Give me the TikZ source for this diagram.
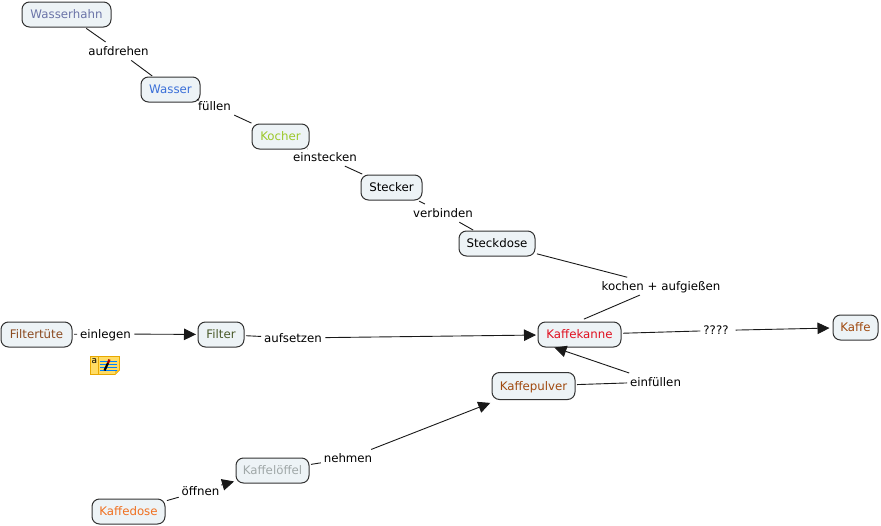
\documentclass[tikz,border=0pt]{standalone}
\usepackage{fontspec}
\setmainfont{DejaVu Sans}
\usetikzlibrary{arrows.meta}
\definecolor{conceptfill}{HTML}{EDF3F6}
\definecolor{conceptline}{HTML}{333333}
\definecolor{notefill}{HTML}{FFDC64}
\definecolor{noteline}{HTML}{E8A800}
\tikzset{
  concept/.style n args={2}{draw=conceptline,line width=1pt,fill=conceptfill,rounded corners=7.5pt,
    minimum width=#1pt,minimum height=#2pt,inner sep=0pt,font=\fontsize{11.8}{13}\selectfont,
    text height=11.3pt,text depth=2.7pt},
  linklabel/.style={inner sep=0pt,inner xsep=0.5pt,outer sep=1.5pt,font=\fontsize{11.8}{13}\selectfont,text=black,
    text height=11.3pt,text depth=2.7pt},
  conn/.style={draw=black!90,line width=0.9pt,shorten <=1.5pt,shorten >=1pt},
  arr/.style={conn,-{Triangle[length=12pt,width=11.5pt]},shorten >=1.5pt},
}
\begin{document}
\begin{tikzpicture}[x=1pt,y=-1pt]
\useasboundingbox (0,0) rectangle (881,525);
% concepts
\node[concept={89}{25},text={rgb,255:red,107;green,116;blue,168}] (wh) at (66.5,14.5) {Wasserhahn};
\node[concept={59}{25},text={rgb,255:red,58;green,111;blue,216}] (wa) at (170.5,89.5) {Wasser};
\node[concept={57}{25},text={rgb,255:red,156;green,200;blue,42}] (ko) at (280.5,136.5) {Kocher};
\node[concept={61}{25},text=black] (st) at (391.5,187.5) {Stecker};
\node[concept={76}{25},text=black] (sd) at (497,243.5) {Steckdose};
\node[concept={83}{25},text={rgb,255:red,224;green,16;blue,32}] (ka) at (579.5,334.5) {Kaffekanne};
\node[concept={45}{25},text={rgb,255:red,160;green,74;blue,16}] (kf) at (855.5,327.5) {Kaffe};
\node[concept={83}{27},text={rgb,255:red,160;green,74;blue,16}] (kp) at (533.5,386) {Kaffepulver};
\node[concept={71}{25},text={rgb,255:red,139;green,74;blue,32}] (ft) at (36.5,334.5) {Filtertüte};
\node[concept={46}{25},text={rgb,255:red,74;green,90;blue,42}] (fi) at (221,334.5) {Filter};
\node[concept={73}{25},text={rgb,255:red,160;green,168;blue,168}] (kl) at (272.5,470.5) {Kaffelöffel};
\node[concept={73}{25},text={rgb,255:red,240;green,112;blue,32}] (kd) at (128.5,511.5) {Kaffedose};
% link labels
\node[linklabel] (l1) at (118.5,51) {aufdrehen};
\node[linklabel] (l2) at (214.5,106) {füllen};
\node[linklabel] (l3) at (325,157) {einstecken};
\node[linklabel] (l4) at (443,213) {verbinden};
\node[linklabel] (l5) at (661,286) {kochen + aufgießen};
\node[linklabel] (l6) at (105.5,334) {einlegen};
\node[linklabel] (l7) at (293,338) {aufsetzen};
\node[linklabel] (l8) at (716,330.5) {????};
\node[linklabel] (l9) at (655.5,382) {einfüllen};
\node[linklabel] (l10) at (348,458.5) {nehmen};
\node[linklabel] (l11) at (200.5,491) {öffnen};
\coordinate (kaT) at (583,319.5);
\coordinate (kaB) at (553,347);
% connectors
\draw[conn] (wh) -- (l1);
\draw[conn] (l1) -- (wa);
\draw[conn] (wa) -- (l2);
\draw[conn] (l2) -- (ko);
\draw[conn] (ko) -- (l3);
\draw[conn] (l3) -- (st);
\draw[conn] (st) -- (l4);
\draw[conn] (l4) -- (sd);
\draw[conn] (sd) -- (l5);
\draw[conn] (l5) -- (kaT);
\draw[conn] (ft) -- (l6);
\draw[arr] (l6) -- (fi);
\draw[conn] (fi) -- (l7);
\draw[arr] (l7) -- (ka);
\draw[conn] (ka) -- (l8);
\draw[arr,shorten <=5pt,shorten >=3pt] (l8) -- (kf);
\draw[conn] (kp) -- (l9);
\draw[arr] (l9) -- (kaB);
\draw[conn] (kl) -- (l10);
\draw[arr,shorten >=8pt] (l10) -- (kp);
\draw[conn] (kd) -- (l11);
\draw[arr,shorten <=0pt] (l11) -- (kl);
% note icon
\fill[notefill,draw=noteline,line width=0.9pt] (90.5,356.5) -- (119.5,356.5) -- (119.5,370) -- (115,374.5) -- (90.5,374.5) -- cycle;
\draw[noteline,line width=0.5pt] (98.5,356.5) -- (98.5,374.5);
\fill[noteline!60!notefill] (115,374.5) -- (115,370) -- (119.5,370) -- cycle;
\node[inner sep=0pt,font=\fontsize{9}{9}\selectfont] (icona) at (94.5,361) {a};
\foreach \yy in {361,364,367,370}
  \draw[blue!50!cyan,line width=0.7pt] (100,\yy) -- (117,\yy);
\draw[black,line width=2.2pt] (104.5,370.5) -- (108,363);
\draw[red!65!black,line width=2.2pt] (108,363) -- (109.5,359.5);
\end{tikzpicture}
\end{document}
